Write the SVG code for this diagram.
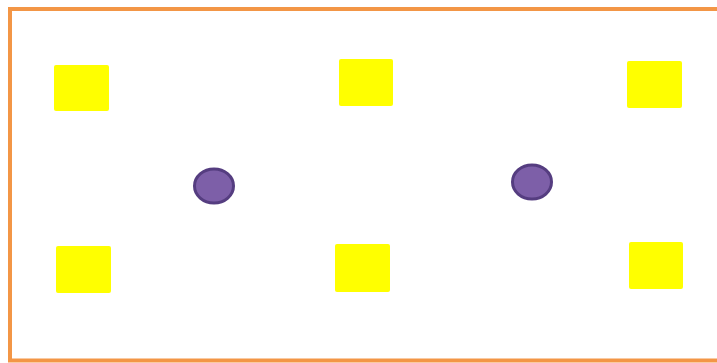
<svg xmlns="http://www.w3.org/2000/svg" width="717" height="363" viewBox="0 0 717 363">
<style>
.sq{fill:#ffff00}
.dot{fill:#7d5fa8;stroke:#553d80;stroke-width:3}
</style>
<rect x="0" y="0" width="717" height="363" fill="#ffffff"/>
<path d="M722 9 H10 V360.5 H722" fill="none" stroke="#f39646" stroke-width="4"/>
<g id="sq-tl"><rect class="sq" x="54" y="65" width="55" height="46" rx="2"/></g>
<g id="sq-tm"><rect class="sq" x="339" y="59" width="54" height="47" rx="2"/></g>
<g id="sq-tr"><rect class="sq" x="627" y="61" width="55" height="47" rx="2"/></g>
<g id="sq-bl"><rect class="sq" x="56" y="246" width="55" height="47" rx="2"/></g>
<g id="sq-bm"><rect class="sq" x="335" y="244" width="55" height="48" rx="2"/></g>
<g id="sq-br"><rect class="sq" x="629" y="242" width="54" height="47" rx="2"/></g>
<g id="dot-1"><ellipse class="dot" cx="214" cy="186" rx="19.5" ry="17"/></g>
<g id="dot-2"><ellipse class="dot" cx="532" cy="182" rx="19.5" ry="17"/></g>
<g id="connectors"></g>
</svg>
